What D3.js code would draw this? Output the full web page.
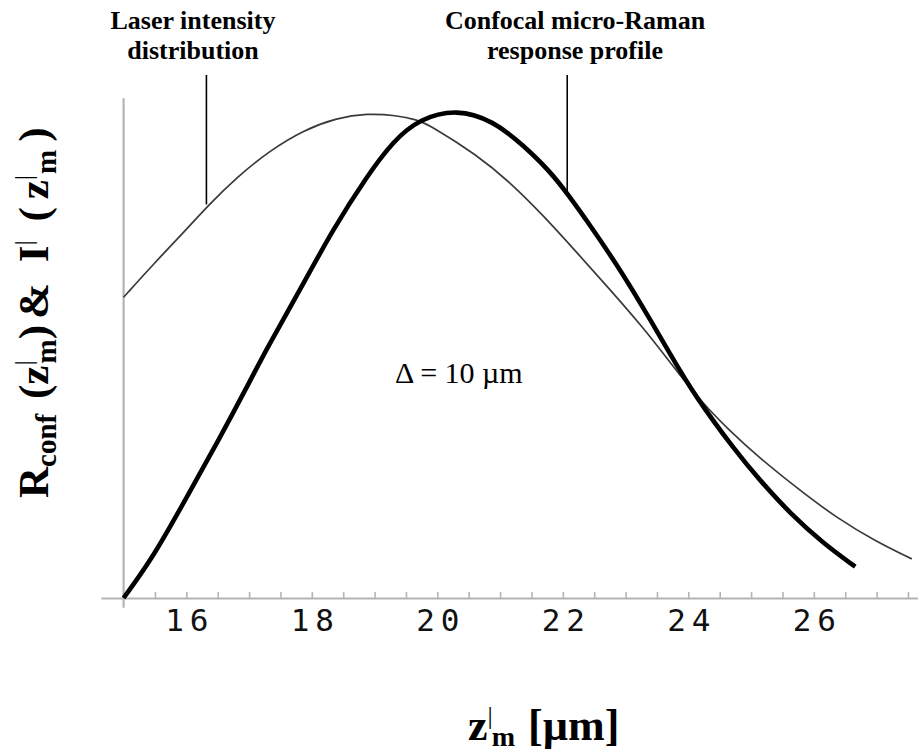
<!DOCTYPE html>
<html>
<head>
<meta charset="utf-8">
<script src="https://cdn.jsdelivr.net/npm/d3@7"></script>
<style>
  html, body { margin: 0; padding: 0; background: #ffffff; }
  svg { display: block; }
</style>
</head>
<body>
<svg id="chart" width="918" height="752"></svg>
<script>
// ---- data ----
// Laser intensity distribution I'(z'm) (thin curve)
const zLaser = [15.0, 15.47, 16.01, 16.35, 16.80, 17.33, 17.87, 18.40, 18.88, 19.35, 19.67, 19.88, 20.63, 21.16, 21.69, 22.22, 22.75, 23.28, 23.71, 24.13, 24.67, 25.15, 25.73, 26.37, 27.0, 27.56];
const laserI = [0.615, 0.682, 0.755, 0.803, 0.860, 0.915, 0.957, 0.982, 0.991, 0.987, 0.978, 0.967, 0.906, 0.850, 0.782, 0.707, 0.631, 0.553, 0.482, 0.412, 0.340, 0.285, 0.225, 0.163, 0.115, 0.080];
// Confocal micro-Raman response profile Rconf(z'm) (thick curve)
const zRaman = [15.0, 15.475, 16.01, 16.54, 16.96, 17.28, 17.76, 18.34, 18.88, 19.30, 19.72, 20.31, 20.89, 21.37, 21.80, 22.09, 22.43, 22.86, 23.28, 23.71, 24.08, 24.77, 25.14, 25.62, 26.15, 26.66];
const ramanR = [0.0, 0.084, 0.207, 0.329, 0.430, 0.510, 0.618, 0.755, 0.863, 0.935, 0.980, 1.0, 0.976, 0.926, 0.872, 0.824, 0.763, 0.682, 0.594, 0.499, 0.418, 0.297, 0.241, 0.173, 0.112, 0.064];
// axis
const xTickLabels = [16, 18, 20, 22, 24, 26];
const xMinorTicks = d3.range(15, 27.51, 0.5);
// annotations
const annLaserZ = 16.32;
const annRamanZ = 22.07;
const deltaText = "\u0394 = 10 \u00b5m";

// ---- layout ----
const svg = d3.select("#chart");
const x = d3.scaleLinear().domain([14.64, 27.66]).range([101, 918]);
const y = d3.scaleLinear().domain([0, 1]).range([598, 109]);

const axisColor = "#b4b4b4";
const serif = "'Liberation Serif', 'Times New Roman', serif";

// x axis: minor ticks pointing up
const gx = svg.append("g").attr("transform", `translate(0,${y(0)})`)
  .call(d3.axisBottom(x).tickValues(xMinorTicks).tickSizeInner(-6).tickSizeOuter(0).tickFormat(""));
gx.select(".domain").attr("stroke", axisColor).attr("stroke-width", 2.2);
gx.selectAll(".tick line").attr("stroke", axisColor).attr("stroke-width", 1.6);

// x tick labels
const gl = svg.append("g").attr("transform", `translate(0,${y(0)})`)
  .call(d3.axisBottom(x).tickValues(xTickLabels).tickSize(0).tickPadding(0).tickFormat(d3.format("d")));
gl.select(".domain").remove();
gl.selectAll(".tick text")
  .attr("dy", null).attr("y", 33).attr("dx", 3)
  .attr("font-family", "'DejaVu Sans Mono', monospace")
  .attr("font-size", 31).attr("letter-spacing", 6)
  .attr("fill", "#111");

// y axis line (no ticks)
svg.append("line")
  .attr("x1", x(15)).attr("x2", x(15))
  .attr("y1", y(-0.02)).attr("y2", y(1.022))
  .attr("stroke", axisColor).attr("stroke-width", 2.2);

// curves
const line = d3.line().x(d => x(d[0])).y(d => y(d[1])).curve(d3.curveBasis);
svg.append("path")
  .datum(zLaser.map((z, i) => [z, laserI[i]]))
  .attr("d", line).attr("fill", "none")
  .attr("stroke", "#3a3a3a").attr("stroke-width", 1.7);
svg.append("path")
  .datum(zRaman.map((z, i) => [z, ramanR[i]]))
  .attr("d", line).attr("fill", "none")
  .attr("stroke", "#000").attr("stroke-width", 4.6);

// annotation lines
const interp = (zs, vs, z) => {
  for (let i = 1; i < zs.length; i++) if (z <= zs[i]) {
    const t = (z - zs[i-1]) / (zs[i] - zs[i-1]);
    return vs[i-1] + t * (vs[i] - vs[i-1]);
  }
  return vs[vs.length - 1];
};
svg.append("line")
  .attr("x1", x(annLaserZ)).attr("x2", x(annLaserZ))
  .attr("y1", 75).attr("y2", y(interp(zLaser, laserI, annLaserZ)) - 3)
  .attr("stroke", "#000").attr("stroke-width", 1.6);
svg.append("line")
  .attr("x1", x(annRamanZ)).attr("x2", x(annRamanZ))
  .attr("y1", 75).attr("y2", y(interp(zRaman, ramanR, annRamanZ)) - 2)
  .attr("stroke", "#000").attr("stroke-width", 1.6);

// annotation texts
function twoLines(cx, lines) {
  const t = svg.append("text")
    .attr("font-family", serif).attr("font-weight", "bold")
    .attr("font-size", 26).attr("text-anchor", "middle").attr("fill", "#000");
  lines.forEach((s, i) => t.append("tspan").attr("x", cx).attr("y", 29 + i * 30).text(s));
}
twoLines(193, ["Laser intensity", "distribution"]);
twoLines(575, ["Confocal micro-Raman", "response profile"]);

svg.append("text")
  .attr("x", 395).attr("y", 383)
  .attr("font-family", serif).attr("font-size", 30).attr("fill", "#000")
  .text(deltaText);

// y axis label
const yl = svg.append("text")
  .attr("transform", "translate(48,498) rotate(-90)")
  .attr("font-family", serif).attr("font-weight", "bold")
  .attr("font-size", 43).attr("fill", "#000");
function zPrimeM(t, gap) {
  t.append("tspan").attr("dx", gap).text("z");
  t.append("tspan").attr("font-size", 26).attr("font-weight", "normal").attr("dy", -16).text("|");
  t.append("tspan").attr("font-size", 29).attr("dx", -3 + gap / 2).attr("dy", 24).text("m");
  t.append("tspan").attr("dy", -8).attr("dx", gap).text(")");
}
yl.append("tspan").text("R");
yl.append("tspan").attr("font-size", 29).attr("dy", 8).text("conf");
yl.append("tspan").attr("dy", -8).attr("dx", 4).text(" (");
zPrimeM(yl, 0);
yl.append("tspan").attr("dx", 6).text("&");
yl.append("tspan").attr("dx", 10).text(" I");
yl.append("tspan").attr("font-size", 26).attr("font-weight", "normal").attr("dy", -16).text("|");
yl.append("tspan").attr("dy", 16).attr("dx", 8).text(" (");
zPrimeM(yl, 8);

// x axis label
const xl = svg.append("text")
  .attr("x", 468).attr("y", 740)
  .attr("font-family", serif).attr("font-weight", "bold")
  .attr("font-size", 44).attr("fill", "#000");
xl.append("tspan").text("z");
xl.append("tspan").attr("font-size", 26).attr("font-weight", "normal").attr("dy", -16).text("|");
xl.append("tspan").attr("font-size", 28).attr("dx", -1).attr("dy", 22).text("m");
xl.append("tspan").attr("dy", -6).attr("dx", 2).text(" [\u00b5m]");
</script>
</body>
</html>
